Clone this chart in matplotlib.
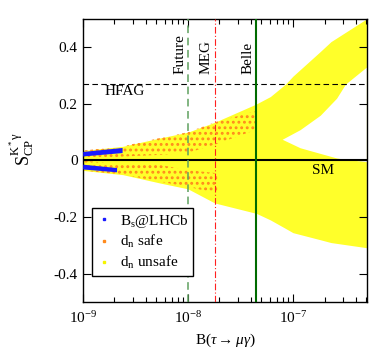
import matplotlib
matplotlib.use('Agg')
import matplotlib.pyplot as plt
from matplotlib.lines import Line2D
from matplotlib.ticker import NullFormatter

plt.rcParams['font.family'] = ['Liberation Serif', 'DejaVu Serif']
plt.rcParams['mathtext.fontset'] = 'custom'
plt.rcParams['mathtext.rm'] = 'Liberation Serif'
plt.rcParams['mathtext.it'] = 'Liberation Serif:italic'
plt.rcParams['hatch.linewidth'] = 1.3

# --- values ---
# d_n unsafe (yellow) outer envelope
env_x  = [1e-9, 2.4e-9, 5.5e-9, 1e-8, 1.8e-8, 4.5e-8, 6.1e-8, 8.5e-8, 1e-7, 1.82e-7, 2.3e-7, 5e-7]
env_up = [0.035, 0.05, 0.08, 0.10, 0.135, 0.20, 0.226, 0.27, 0.298, 0.385, 0.42, 0.50]
env_lo = [-0.035, -0.05, -0.08, -0.10, -0.15, -0.187, -0.21, -0.24, -0.255, -0.28, -0.29, -0.308]
# empty wedge between the two yellow branches
gap_x  = [7.9e-8, 1.17e-7, 1.82e-7, 2.6e-7, 3.16e-7, 5e-7]
gap_up = [0.075, 0.109, 0.16, 0.22, 0.27, 0.33]
gap_lo = [0.075, 0.045, 0.025, 0.009, 0.004, -0.004]
# d_n safe (orange), upper and lower branches
safe_up_x  = [1e-9, 2.4e-9, 5.5e-9, 1e-8, 1.8e-8, 4.5e-8]
safe_up_hi = [0.035, 0.05, 0.08, 0.10, 0.135, 0.175]
safe_up_lo = [0.0, 0.014, 0.02, 0.027, 0.056, 0.109]
safe_lo_x  = [1e-9, 2.4e-9, 5.5e-9, 1e-8, 1.9e-8]
safe_lo_hi = [0.0, -0.014, -0.016, -0.034, -0.045]
safe_lo_lo = [-0.035, -0.05, -0.075, -0.093, -0.116]
# B_s @ LHCb (blue)
bs_up_x  = [1e-9, 2.37e-9]
bs_up_hi = [0.032, 0.046]
bs_up_lo = [0.016, 0.028]
bs_lo_x  = [1e-9, 2.1e-9]
bs_lo_hi = [-0.013, -0.025]
bs_lo_lo = [-0.030, -0.040]

hfag = 0.27
bounds = {'Future': 1e-8, 'MEG': 1.8e-8, 'Belle': 4.5e-8}

fig = plt.figure(figsize=(3.92, 3.51), dpi=100)
ax = fig.add_axes([0.211, 0.1396, 0.726, 0.8063])
ax.set_xscale('log')

yel = '#ffff2a'
ora = '#ff8a1c'
blu = '#1a1aff'

ax.fill_between(env_x, env_lo, env_up, color=yel, lw=0, zorder=1)
ax.fill_between(gap_x, gap_lo, gap_up, color='white', lw=0, zorder=1.5)
ax.fill_between(safe_up_x, safe_up_lo, safe_up_hi, facecolor='none', edgecolor=ora,
                hatch='...', lw=0, zorder=2)
ax.fill_between(safe_lo_x, safe_lo_lo, safe_lo_hi, facecolor='none', edgecolor=ora,
                hatch='...', lw=0, zorder=2)
ax.fill_between(bs_up_x, bs_up_lo, bs_up_hi, color=blu, lw=0, zorder=3)
ax.fill_between(bs_lo_x, bs_lo_lo, bs_lo_hi, color=blu, lw=0, zorder=3)

ax.axhline(0, color='black', lw=1.5, zorder=4)
ax.axhline(hfag, color='black', lw=0.8, ls=(0, (5, 3)), zorder=4)
ax.axvline(bounds['Future'], color='#5fa05f', lw=1.1, ls=(0, (5, 3)), zorder=4)
ax.axvline(bounds['MEG'], color='#ff2020', lw=0.8, ls=(0, (6, 2, 1, 2)), zorder=4)
ax.axvline(bounds['Belle'], color='#006b00', lw=1.5, zorder=4)

for name, xv in bounds.items():
    ax.text(xv / 1.04, 0.305, name, rotation=90, ha='right', va='bottom', fontsize=11)
ax.text(1.63e-9, 0.243, 'HFAG', ha='left', va='center', fontsize=11)
ax.text(1.53e-7, -0.034, 'SM', ha='left', va='center', fontsize=11)

ax.set_xlim(1e-9, 5.1e-7)
ax.set_ylim(-0.5, 0.5)
ax.set_yticks([-0.4, -0.2, 0, 0.2, 0.4])
ax.set_yticklabels(['-0.4', '-0.2', '0', '0.2', '0.4'])
ax.xaxis.set_minor_formatter(NullFormatter())
ax.tick_params(which='both', direction='in', top=True, right=True, labelsize=11)
ax.tick_params(which='major', length=6, width=0.8)
ax.tick_params(which='minor', length=3.5, width=0.8)
ax.tick_params(axis='x', pad=6)
for s in ax.spines.values():
    s.set_linewidth(1.0)

ax.set_xlabel(r'B($\tau\rightarrow\mu\gamma$)', fontsize=11, labelpad=4)
ax.set_ylabel(r'$\mathrm{S_{CP}^{K^*\gamma}}$', fontsize=13)
ax.yaxis.set_label_coords(-0.165, 0.54)

handles = [Line2D([], [], marker='s', ms=1.8, ls='', color=blu),
           Line2D([], [], marker='s', ms=1.8, ls='', color=ora),
           Line2D([], [], marker='s', ms=1.8, ls='', color='#f5f500')]
labels = [r'B$_{\rm s}$@LHCb', r'd$_{\rm n}$ safe', r'd$_{\rm n}$ unsafe']
leg = ax.legend(handles, labels, loc='lower left', bbox_to_anchor=(0.033, 0.092),
                borderaxespad=0, fancybox=False, edgecolor='black', framealpha=1,
                fontsize=11, handlelength=1.0, handletextpad=0.5, labelspacing=0.25,
                borderpad=0.3)
leg.get_frame().set_linewidth(1.0)
leg.set_zorder(6)

fig.savefig('out.png', dpi=100)
